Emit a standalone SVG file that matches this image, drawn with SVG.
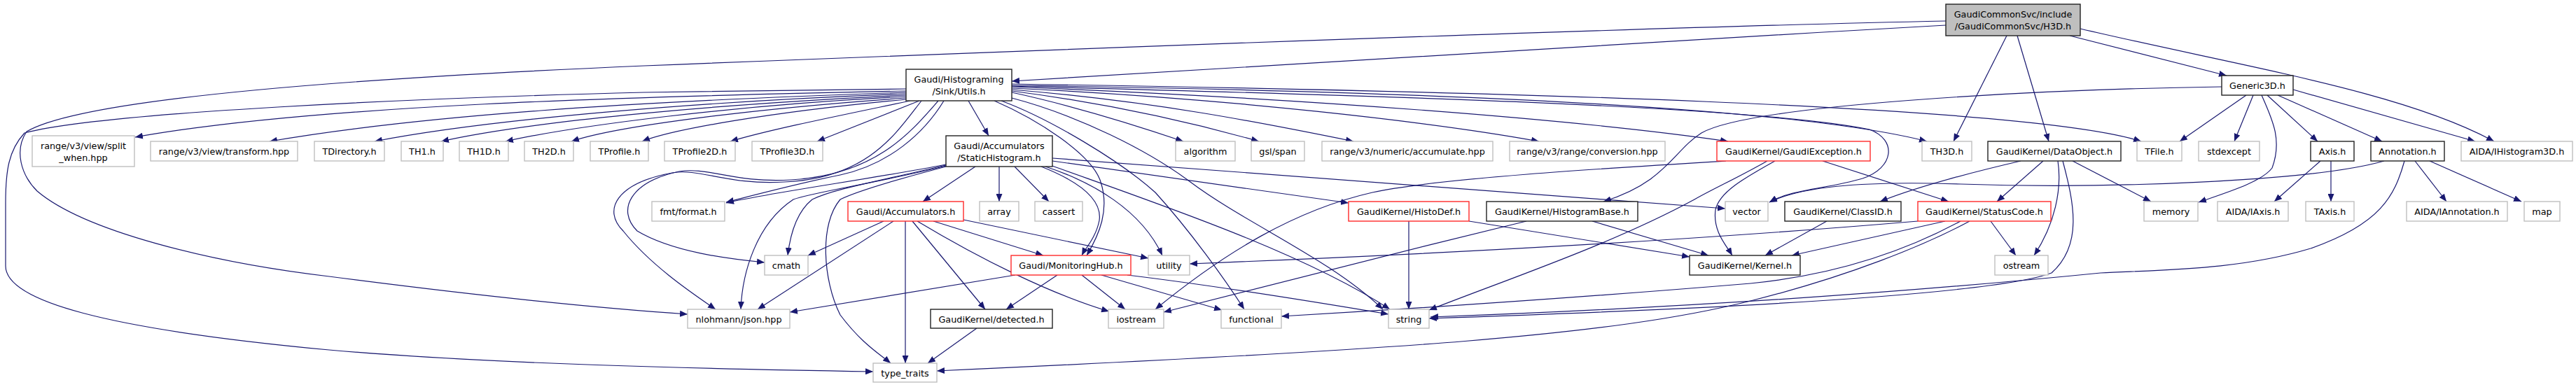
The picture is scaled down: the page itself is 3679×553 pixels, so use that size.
<svg xmlns="http://www.w3.org/2000/svg" width="3679" height="553" viewBox="0 0 3679 553">
<style>
rect{fill:#fff;stroke-width:1.4}
.g{stroke:#bfbfbf}
.b{stroke:#222}
.r{stroke:#ff2a2a}
.root{fill:#bfbfbf;stroke:#222}
text{font-family:"DejaVu Sans","Liberation Sans",sans-serif;font-size:12.8px;fill:#000;text-anchor:middle}
.e path{fill:none;stroke:#191970;stroke-width:1.2;marker-end:url(#a)}
</style>
<defs>
<marker id="a" markerUnits="userSpaceOnUse" markerWidth="12" markerHeight="9" refX="11" refY="4.5" orient="auto"><path d="M0,0 L11,4.5 L0,9 z" fill="#191970"/></marker>
</defs>
<rect x="0" y="0" width="3679" height="553" style="fill:#fff;stroke:none"/>
<g class="e" id="edges">
<path d="M2779,36 C2300,63 1800,94 1445,116"/>
<path d="M2866,51 L2790,202"/>
<path d="M2881,51 L2926,202"/>
<path d="M2956,51 L3180,108"/>
<path d="M2971,41 C3200,95 3430,130 3562,202"/>
<path d="M2779,30 C2300,40 1400,75 920,94 C500,112 120,140 38,188 C20,215 30,250 53,273 C120,330 300,375 470,395 C700,425 850,440 982,449"/>
<path d="M1294,127 C1100,130 1000,131 920,132 C600,140 150,160 35,190 C12,215 8,245 8,290 L8,380 C8,430 150,470 470,500 C700,520 1000,527 1247,531"/>
<path d="M1294,130 C900,138 450,150 193,196"/>
<path d="M1294,132 C900,145 600,165 385,202"/>
<path d="M1294,134 C1000,145 700,170 535,202"/>
<path d="M1294,136 C1000,150 750,175 630,202"/>
<path d="M1294,138 C1050,150 820,180 722,202"/>
<path d="M1294,140 C1080,155 880,180 816,202"/>
<path d="M1294,142 C1100,160 960,185 917,202"/>
<path d="M1300,144 C1200,165 1100,185 1043,202"/>
<path d="M1313,144 L1167,202"/>
<path d="M1340,144 C1300,190 1250,250 1130,257 C1050,262 1010,238 970,245 C900,260 880,300 910,330 C960,360 1040,370 1092,375"/>
<path d="M1316,144 C1280,190 1240,255 1120,260 C1040,265 1000,240 960,247 C880,262 860,300 890,330 C930,380 990,420 1022,442"/>
<path d="M1348,144 C1320,190 1270,235 1200,250 C1140,262 1080,278 1037,289"/>
<path d="M1383,144 L1412,194"/>
<path d="M1420,144 C1480,170 1560,220 1572,260 C1585,300 1570,335 1552,365"/>
<path d="M1430,144 C1500,170 1600,230 1650,275 C1700,330 1750,400 1777,442"/>
<path d="M1445,140 C1540,165 1640,215 1700,260 C1780,320 1900,370 1975,442"/>
<path d="M1445,132 C1550,155 1640,185 1690,202"/>
<path d="M1445,130 C1600,150 1720,180 1798,202"/>
<path d="M1445,128 C1650,145 1800,175 1933,202"/>
<path d="M1445,126 C1750,140 2050,175 2198,202"/>
<path d="M1445,124 C1850,140 2250,170 2468,202"/>
<path d="M1445,122 C2000,130 2550,150 2752,202"/>
<path d="M1445,120 C2100,130 2900,150 3058,202"/>
<path d="M1445,123 C1900,135 2500,150 2670,185 C2710,200 2705,240 2660,255 C2610,270 2560,270 2527,289"/>
<path d="M1393,238 L1318,288"/>
<path d="M1427,238 L1427,288"/>
<path d="M1449,238 L1498,288"/>
<path d="M1351,235 C1250,255 1100,275 1037,290"/>
<path d="M1351,236 C1250,260 1190,270 1160,285 C1135,305 1128,340 1125,365"/>
<path d="M1351,237 C1250,262 1160,275 1133,285 C1080,320 1060,390 1058,442"/>
<path d="M1351,238 C1260,262 1220,275 1200,285 C1170,320 1175,400 1200,450 C1230,490 1255,505 1272,519"/>
<path d="M1503,226 L2464,298"/>
<path d="M1503,230 L1926,290"/>
<path d="M1487,238 C1530,255 1575,280 1570,315 C1565,340 1550,355 1545,365"/>
<path d="M1493,238 C1560,260 1630,300 1660,365"/>
<path d="M1500,236 C1650,290 1860,360 1985,442"/>
<path d="M1262,316 L1154,365"/>
<path d="M1276,316 L1082,442"/>
<path d="M1293,316 L1293,519"/>
<path d="M1303,316 L1407,442"/>
<path d="M1310,316 C1400,370 1500,420 1584,445"/>
<path d="M1333,316 L1490,365"/>
<path d="M1376,314 L1640,369"/>
<path d="M1450,393 L1128,446"/>
<path d="M1510,393 L1437,442"/>
<path d="M1545,393 L1607,442"/>
<path d="M1573,393 L1745,443"/>
<path d="M1610,393 C1750,410 1900,435 1983,449"/>
<path d="M1395,469 L1325,519"/>
<path d="M2012,316 L2012,442"/>
<path d="M2098,316 L2413,367"/>
<path d="M2274,316 L2440,365"/>
<path d="M2180,316 C2000,360 1800,410 1662,446"/>
<path d="M2465,230 C2300,240 2050,255 1960,275 C1850,300 1750,360 1650,442"/>
<path d="M2524,230 C2480,255 2450,268 2420,285 C2300,350 2150,400 2041,443"/>
<path d="M2535,230 C2490,255 2455,275 2450,300 C2446,330 2465,350 2474,365"/>
<path d="M2603,230 L2783,288"/>
<path d="M2609,316 L2521,365"/>
<path d="M2778,316 L2559,365"/>
<path d="M2739,316 C2400,345 2000,365 1699,377"/>
<path d="M2800,316 C2700,370 2600,395 2500,405 C2200,430 1950,445 1830,452"/>
<path d="M2813,316 C2750,350 2640,395 2500,430 C2300,480 2000,500 1338,530"/>
<path d="M2843,316 L2879,365"/>
<path d="M2886,230 C2800,250 2730,270 2685,288"/>
<path d="M2918,230 L2852,288"/>
<path d="M2939,230 C2945,270 2935,320 2905,365"/>
<path d="M2946,230 C2962,290 2975,350 2930,390 C2850,420 2500,440 2041,455"/>
<path d="M2960,230 L3072,288"/>
<path d="M3173,124 C2900,128 2500,150 2430,190 C2390,215 2380,260 2290,288"/>
<path d="M3208,136 L3113,202"/>
<path d="M3218,136 L3191,202"/>
<path d="M3238,136 L3310,202"/>
<path d="M3253,136 L3402,202"/>
<path d="M3275,128 L3535,202"/>
<path d="M3230,136 C3245,170 3260,200 3245,240 C3230,260 3180,275 3140,289"/>
<path d="M3314,230 L3248,288"/>
<path d="M3329,230 L3329,288"/>
<path d="M3405,230 C3300,260 3000,270 2800,263 C2650,258 2570,268 2527,289"/>
<path d="M3434,230 C3420,280 3400,320 3300,355 C3200,385 3100,385 3000,390 C2700,420 2400,440 2043,453"/>
<path d="M3449,230 L3494,288"/>
<path d="M3470,230 L3601,288"/>
</g>
<g id="n_H3D"><rect class="root" x="2779" y="6" width="192" height="45"/><text x="2875" y="24.5">GaudiCommonSvc/include</text><text x="2875" y="41.5">/GaudiCommonSvc/H3D.h</text></g>
<g id="n_Utils"><rect class="b" x="1294" y="99" width="151" height="45"/><text x="1369.5" y="117.5">Gaudi/Histograming</text><text x="1369.5" y="134.5">/Sink/Utils.h</text></g>
<g id="n_Generic3D"><rect class="b" x="3173" y="108" width="102" height="28"/><text x="3224" y="126.5">Generic3D.h</text></g>
<g id="n_split"><rect class="g" x="46" y="194" width="146" height="44"/><text x="119" y="212.5">range/v3/view/split</text><text x="119" y="229.5">_when.hpp</text></g>
<g id="n_transform"><rect class="g" x="215" y="202" width="210" height="28"/><text x="320" y="220.5">range/v3/view/transform.hpp</text></g>
<g id="n_TDirectory"><rect class="g" x="449" y="202" width="100" height="28"/><text x="499" y="220.5">TDirectory.h</text></g>
<g id="n_TH1"><rect class="g" x="573" y="202" width="60" height="28"/><text x="603" y="220.5">TH1.h</text></g>
<g id="n_TH1D"><rect class="g" x="656" y="202" width="70" height="28"/><text x="691" y="220.5">TH1D.h</text></g>
<g id="n_TH2D"><rect class="g" x="749" y="202" width="70" height="28"/><text x="784" y="220.5">TH2D.h</text></g>
<g id="n_TProfile"><rect class="g" x="843" y="202" width="83" height="28"/><text x="884.5" y="220.5">TProfile.h</text></g>
<g id="n_TProfile2D"><rect class="g" x="949" y="202" width="101" height="28"/><text x="999.5" y="220.5">TProfile2D.h</text></g>
<g id="n_TProfile3D"><rect class="g" x="1074" y="202" width="101" height="28"/><text x="1124.5" y="220.5">TProfile3D.h</text></g>
<g id="n_StaticHistogram"><rect class="b" x="1351" y="194" width="152" height="44"/><text x="1427" y="212.5">Gaudi/Accumulators</text><text x="1427" y="229.5">/StaticHistogram.h</text></g>
<g id="n_algorithm"><rect class="g" x="1679" y="202" width="85" height="28"/><text x="1721.5" y="220.5">algorithm</text></g>
<g id="n_span"><rect class="g" x="1787" y="202" width="76" height="28"/><text x="1825" y="220.5">gsl/span</text></g>
<g id="n_accumulate"><rect class="g" x="1888" y="202" width="244" height="28"/><text x="2010" y="220.5">range/v3/numeric/accumulate.hpp</text></g>
<g id="n_conversion"><rect class="g" x="2156" y="202" width="222" height="28"/><text x="2267" y="220.5">range/v3/range/conversion.hpp</text></g>
<g id="n_GaudiException"><rect class="r" x="2452" y="202" width="219" height="28"/><text x="2561.5" y="220.5">GaudiKernel/GaudiException.h</text></g>
<g id="n_TH3D"><rect class="g" x="2745" y="202" width="71" height="28"/><text x="2780.5" y="220.5">TH3D.h</text></g>
<g id="n_DataObject"><rect class="b" x="2839" y="202" width="190" height="28"/><text x="2934" y="220.5">GaudiKernel/DataObject.h</text></g>
<g id="n_TFile"><rect class="g" x="3052" y="202" width="64" height="28"/><text x="3084" y="220.5">TFile.h</text></g>
<g id="n_stdexcept"><rect class="g" x="3140" y="202" width="87" height="28"/><text x="3183.5" y="220.5">stdexcept</text></g>
<g id="n_Axis"><rect class="b" x="3300" y="202" width="62" height="28"/><text x="3331" y="220.5">Axis.h</text></g>
<g id="n_Annotation"><rect class="b" x="3386" y="202" width="105" height="28"/><text x="3438.5" y="220.5">Annotation.h</text></g>
<g id="n_IHistogram3D"><rect class="g" x="3515" y="202" width="159" height="28"/><text x="3594.5" y="220.5">AIDA/IHistogram3D.h</text></g>
<g id="n_fmt"><rect class="g" x="931" y="288" width="104" height="28"/><text x="983" y="306.5">fmt/format.h</text></g>
<g id="n_Accumulators"><rect class="r" x="1211" y="288" width="165" height="28"/><text x="1293.5" y="306.5">Gaudi/Accumulators.h</text></g>
<g id="n_array"><rect class="g" x="1399" y="288" width="56" height="28"/><text x="1427" y="306.5">array</text></g>
<g id="n_cassert"><rect class="g" x="1478" y="288" width="68" height="28"/><text x="1512" y="306.5">cassert</text></g>
<g id="n_HistoDef"><rect class="r" x="1926" y="288" width="172" height="28"/><text x="2012" y="306.5">GaudiKernel/HistoDef.h</text></g>
<g id="n_HistogramBase"><rect class="b" x="2123" y="288" width="216" height="28"/><text x="2231" y="306.5">GaudiKernel/HistogramBase.h</text></g>
<g id="n_vector"><rect class="g" x="2464" y="288" width="61" height="28"/><text x="2494.5" y="306.5">vector</text></g>
<g id="n_ClassID"><rect class="b" x="2549" y="288" width="166" height="28"/><text x="2632" y="306.5">GaudiKernel/ClassID.h</text></g>
<g id="n_StatusCode"><rect class="r" x="2739" y="288" width="190" height="28"/><text x="2834" y="306.5">GaudiKernel/StatusCode.h</text></g>
<g id="n_memory"><rect class="g" x="3062" y="288" width="77" height="28"/><text x="3100.5" y="306.5">memory</text></g>
<g id="n_IAxis"><rect class="g" x="3167" y="288" width="101" height="28"/><text x="3217.5" y="306.5">AIDA/IAxis.h</text></g>
<g id="n_TAxis"><rect class="g" x="3293" y="288" width="69" height="28"/><text x="3327.5" y="306.5">TAxis.h</text></g>
<g id="n_IAnnotation"><rect class="g" x="3437" y="288" width="144" height="28"/><text x="3509" y="306.5">AIDA/IAnnotation.h</text></g>
<g id="n_map"><rect class="g" x="3605" y="288" width="51" height="28"/><text x="3630.5" y="306.5">map</text></g>
<g id="n_cmath"><rect class="g" x="1092" y="365" width="62" height="28"/><text x="1123" y="383.5">cmath</text></g>
<g id="n_MonitoringHub"><rect class="r" x="1444" y="365" width="171" height="28"/><text x="1529.5" y="383.5">Gaudi/MonitoringHub.h</text></g>
<g id="n_utility"><rect class="g" x="1640" y="365" width="59" height="28"/><text x="1669.5" y="383.5">utility</text></g>
<g id="n_Kernel"><rect class="b" x="2413" y="365" width="158" height="28"/><text x="2492" y="383.5">GaudiKernel/Kernel.h</text></g>
<g id="n_ostream"><rect class="g" x="2849" y="365" width="76" height="28"/><text x="2887" y="383.5">ostream</text></g>
<g id="n_json"><rect class="g" x="982" y="442" width="146" height="27"/><text x="1055" y="460.5">nlohmann/json.hpp</text></g>
<g id="n_detected"><rect class="b" x="1329" y="442" width="174" height="27"/><text x="1416" y="460.5">GaudiKernel/detected.h</text></g>
<g id="n_iostream"><rect class="g" x="1583" y="442" width="79" height="27"/><text x="1622.5" y="460.5">iostream</text></g>
<g id="n_functional"><rect class="g" x="1744" y="442" width="86" height="27"/><text x="1787" y="460.5">functional</text></g>
<g id="n_string"><rect class="g" x="1983" y="442" width="58" height="27"/><text x="2012" y="460.5">string</text></g>
<g id="n_type_traits"><rect class="g" x="1247" y="519" width="91" height="27"/><text x="1292.5" y="537.5">type_traits</text></g>
</svg>
